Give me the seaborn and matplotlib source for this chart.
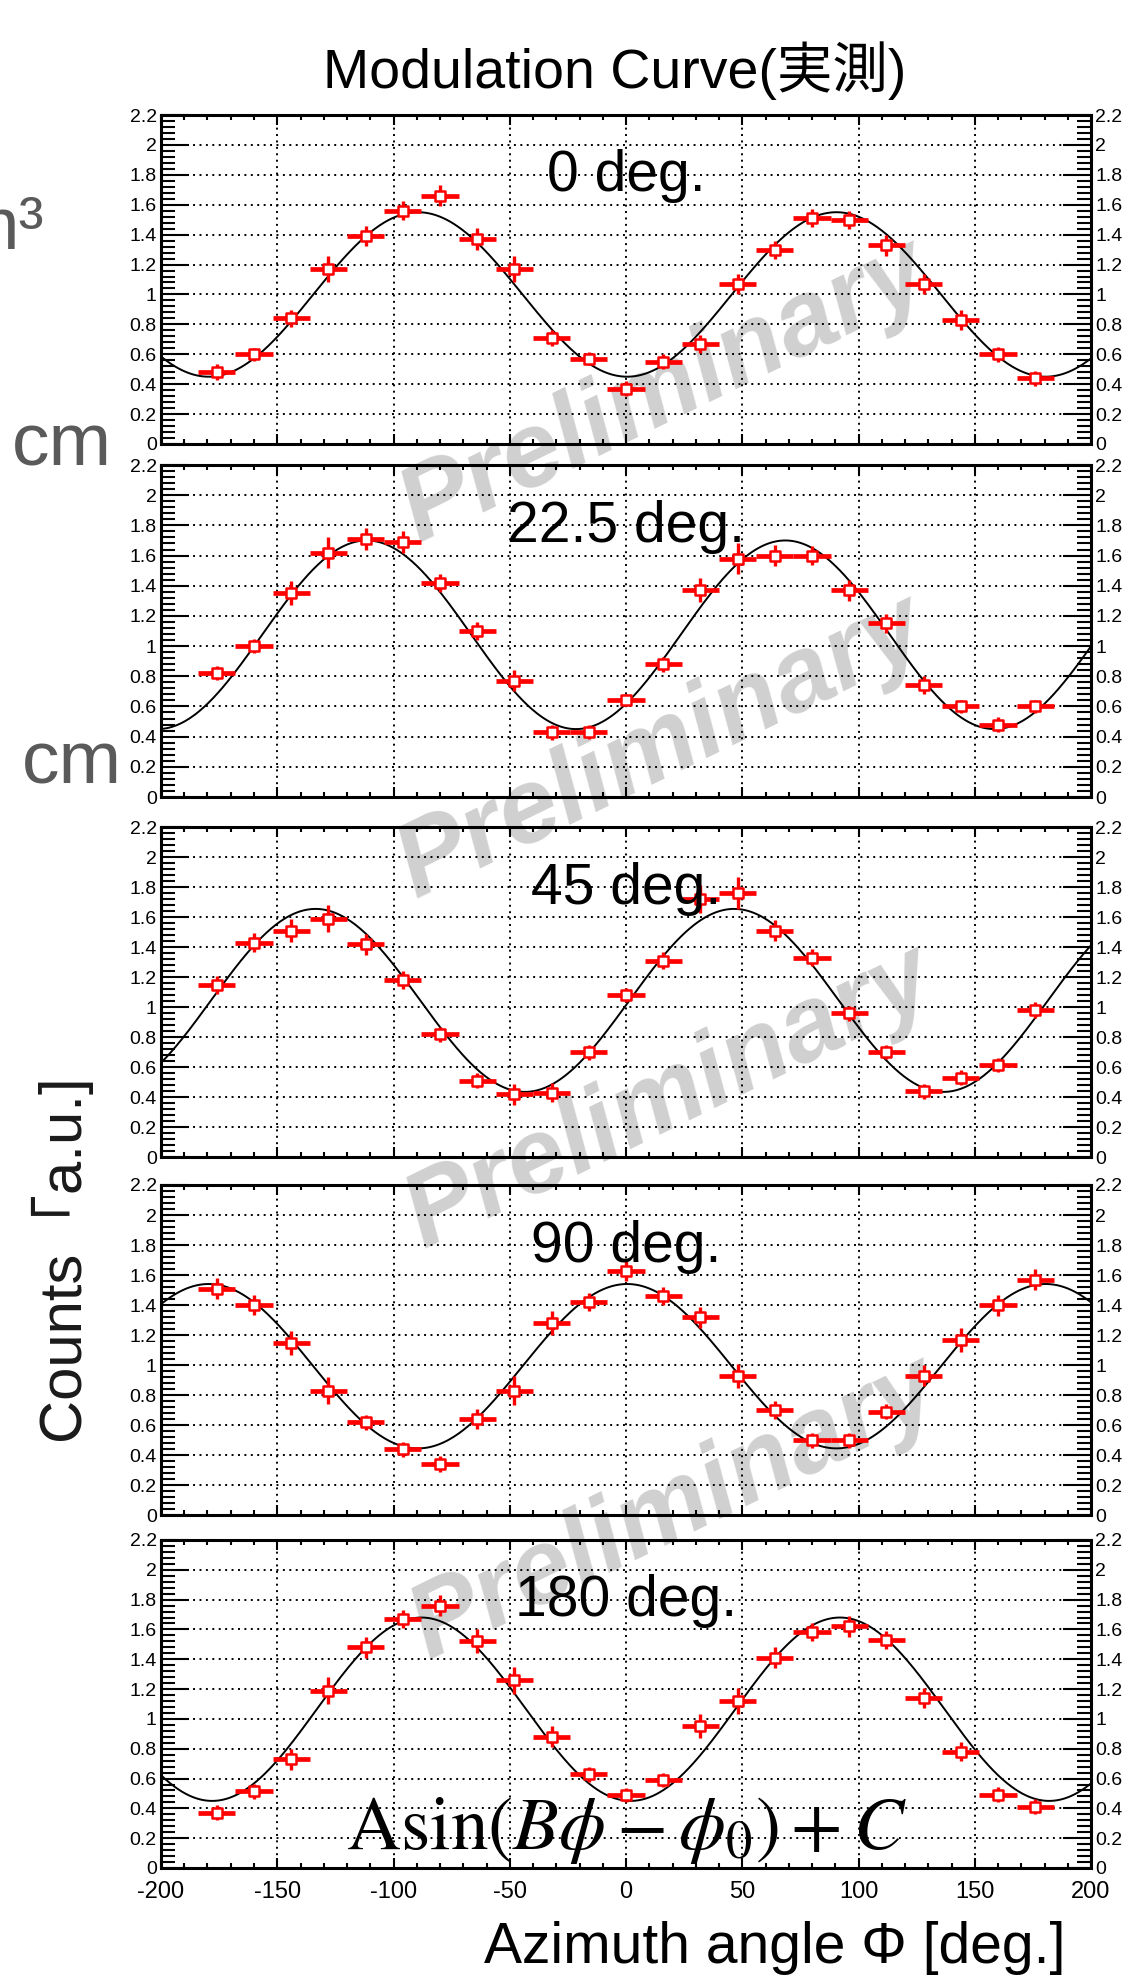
import numpy as np
import matplotlib
matplotlib.use("Agg")
import matplotlib.pyplot as plt
import seaborn as sns
from matplotlib.ticker import FixedLocator, FixedFormatter, MultipleLocator

# azimuth bin centres [deg] and bin half width
phi = [-176, -160, -144, -128, -112, -96, -80, -64, -48, -32, -16, 0,
       16, 32, 48, 64, 80, 96, 112, 128, 144, 160, 176]
bin_half = 8

panel_labels = ["0 deg.", "22.5 deg.", "45 deg.", "90 deg.", "180 deg."]

counts_0 = [0.48, 0.60, 0.84, 1.17, 1.39, 1.56, 1.66, 1.37, 1.17, 0.71, 0.57, 0.37,
            0.55, 0.67, 1.07, 1.30, 1.51, 1.50, 1.33, 1.07, 0.83, 0.60, 0.44]
err_0 = [0.055, 0.045, 0.055, 0.085, 0.065, 0.065, 0.07, 0.075, 0.09, 0.055, 0.045, 0.05,
         0.05, 0.06, 0.07, 0.06, 0.06, 0.06, 0.07, 0.07, 0.065, 0.05, 0.05]

counts_22 = [0.82, 1.00, 1.35, 1.62, 1.71, 1.69, 1.42, 1.10, 0.77, 0.43, 0.43, 0.64,
             0.88, 1.37, 1.58, 1.60, 1.60, 1.37, 1.15, 0.74, 0.60, 0.48, 0.60]
err_22 = [0.045, 0.047, 0.08, 0.105, 0.073, 0.07, 0.06, 0.06, 0.07, 0.05, 0.045, 0.04,
          0.05, 0.08, 0.10, 0.07, 0.06, 0.07, 0.06, 0.06, 0.045, 0.05, 0.045]

counts_45 = [1.15, 1.43, 1.51, 1.59, 1.42, 1.18, 0.82, 0.51, 0.42, 0.43, 0.70, 1.08,
             1.31, 1.72, 1.76, 1.51, 1.33, 0.96, 0.70, 0.44, 0.53, 0.615, 0.98]
err_45 = [0.06, 0.065, 0.075, 0.09, 0.07, 0.06, 0.05, 0.05, 0.07, 0.065, 0.05, 0.045,
          0.055, 0.093, 0.105, 0.067, 0.055, 0.05, 0.045, 0.05, 0.05, 0.045, 0.055]

counts_90 = [1.51, 1.40, 1.15, 0.83, 0.62, 0.44, 0.34, 0.64, 0.83, 1.28, 1.42, 1.63,
             1.46, 1.32, 0.93, 0.70, 0.50, 0.50, 0.69, 0.93, 1.17, 1.40, 1.57]
err_90 = [0.069, 0.067, 0.08, 0.087, 0.05, 0.05, 0.052, 0.067, 0.094, 0.08, 0.061, 0.07,
          0.06, 0.07, 0.08, 0.06, 0.05, 0.05, 0.05, 0.07, 0.08, 0.07, 0.07]

counts_180 = [0.37, 0.515, 0.73, 1.19, 1.48, 1.67, 1.76, 1.52, 1.26, 0.88, 0.63, 0.49,
              0.59, 0.95, 1.12, 1.41, 1.58, 1.62, 1.53, 1.14, 0.78, 0.49, 0.41]
err_180 = [0.05, 0.05, 0.07, 0.09, 0.07, 0.06, 0.07, 0.08, 0.09, 0.07, 0.05, 0.045,
           0.05, 0.08, 0.09, 0.07, 0.06, 0.07, 0.06, 0.07, 0.065, 0.05, 0.05]

# fit  A sin(B*phi - phi0) + C   (phi, phi0 in degrees)
fit_A = [0.55, 0.625, 0.61, 0.548, 0.615]
fit_B = [2, 2, 2, 2, 2]
fit_phi0 = [91, 47, 3, -89, 94]
fit_C = [1.0, 1.075, 1.044, 0.992, 1.065]

xtick_vals = [-200, -150, -100, -50, 0, 50, 100, 150, 200]
xtick_labels = ["-200", "-150", "-100", "-50", "0", "50", "100", "150", "200"]
ytick_vals = [0, 0.2, 0.4, 0.6, 0.8, 1.0, 1.2, 1.4, 1.6, 1.8, 2.0, 2.2]
ytick_labels = ["0", "0.2", "0.4", "0.6", "0.8", "1", "1.2", "1.4", "1.6", "1.8", "2", "2.2"]

counts = [counts_0, counts_22, counts_45, counts_90, counts_180]
errs = [err_0, err_22, err_45, err_90, err_180]

sns.set_theme(style="white")
plt.rcParams["font.family"] = ["Liberation Sans", "Noto Sans CJK JP", "DejaVu Sans"]
plt.rcParams["axes.unicode_minus"] = False
plt.rcParams["mathtext.fontset"] = "stix"

W, H = 1133, 1978
fig = plt.figure(figsize=(W / 100, H / 100), dpi=100)
fig.patch.set_facecolor("white")

left_px, right_px = 161, 1091
panels_px = [(115, 444), (465, 797), (827, 1157), (1185, 1515), (1540, 1868)]

phi_fine = np.linspace(-200, 200, 801)

for i, (top, bot) in enumerate(panels_px):
    ax = fig.add_axes([left_px / W, 1 - bot / H, (right_px - left_px) / W, (bot - top) / H])
    ax.patch.set_alpha(0)

    fit = fit_C[i] + fit_A[i] * np.sin(np.radians(fit_B[i] * phi_fine - fit_phi0[i]))
    sns.lineplot(x=phi_fine, y=fit, ax=ax, color="black", lw=1.4, zorder=3)

    ax.errorbar(phi, counts[i], xerr=bin_half, fmt="none", ecolor="red",
                elinewidth=3.4, capsize=0, zorder=4)
    ax.errorbar(phi, counts[i], yerr=errs[i], fmt="none", ecolor="red",
                elinewidth=2.4, capsize=0, zorder=4)
    sns.scatterplot(x=phi, y=counts[i], ax=ax, marker="s", s=55, facecolor="white",
                    edgecolor="red", linewidth=1.8, zorder=5)

    ax.text(0, 1.69, panel_labels[i], ha="center", va="baseline", fontsize=41,
            color="black", zorder=6)

    ax.set_xlim(-200, 200)
    ax.set_ylim(0, 2.2)
    ax.xaxis.set_major_locator(FixedLocator(xtick_vals))
    ax.xaxis.set_minor_locator(MultipleLocator(10))
    ax.yaxis.set_major_locator(FixedLocator(ytick_vals))
    ax.yaxis.set_major_formatter(FixedFormatter(ytick_labels))
    ax.yaxis.set_minor_locator(MultipleLocator(0.04))
    if i == len(panels_px) - 1:
        ax.xaxis.set_major_formatter(FixedFormatter(xtick_labels))
        ax.tick_params(axis="x", labelbottom=True, labelsize=17, pad=9)
    else:
        ax.tick_params(axis="x", labelbottom=False)

    ax.tick_params(axis="x", which="both", direction="in", top=True, bottom=True,
                   width=1.5, colors="black")
    ax.tick_params(axis="x", which="major", length=7)
    ax.tick_params(axis="x", which="minor", length=3.8)
    ax.tick_params(axis="y", which="both", direction="in", left=True, right=True,
                   labelleft=True, labelright=True, width=1.5, colors="black")
    ax.tick_params(axis="y", which="major", length=20, labelsize=14, pad=3)
    ax.tick_params(axis="y", which="minor", length=10)

    ax.grid(True, which="major", color="black", linestyle=(0, (1, 2.3)), linewidth=1.4)
    for s in ax.spines.values():
        s.set_visible(True)
        s.set_linewidth(2.2)
        s.set_color("black")
    ax.set_xlabel("")
    ax.set_ylabel("")

    if i == len(panels_px) - 1:
        ax.text(0, 0.13, r"$\mathrm{Asin}(B\phi - \phi_0) + C$", ha="center",
                va="baseline", fontsize=54, color="black", zorder=6)

# watermark
for cx, cy in [(665, 393), (662, 749), (670, 1099), (675, 1510)]:
    fig.text(cx / W, 1 - cy / H, "Preliminary", ha="center", va="center", rotation=26,
             rotation_mode="anchor", fontsize=76, fontweight="bold", fontstyle="italic",
             color="#d0d0d0", zorder=-1)

fig.text(615 / W, 1 - 88 / H, "Modulation Curve(実測)", ha="center", va="baseline",
         fontsize=40, color="black")
fig.text(60 / W, 1 - 1257 / H, "Counts「a.u.]", ha="center", va="center",
         rotation=90, fontsize=43, color="#1a1a1a")
fig.text(1066 / W, 1 - 1963 / H, "Azimuth angle Φ [deg.]", ha="right", va="baseline",
         fontsize=41, color="black")

# bits of the underlying slide at the left edge
fig.text(45 / W, 1 - 249 / H, "m³", ha="right", va="baseline", fontsize=54, color="#5a5a5a")
fig.text(12 / W, 1 - 465 / H, "cm", ha="left", va="baseline", fontsize=54, color="#5a5a5a")
fig.text(22 / W, 1 - 783 / H, "cm", ha="left", va="baseline", fontsize=54, color="#5a5a5a")

fig.savefig("out.png", dpi=100)
